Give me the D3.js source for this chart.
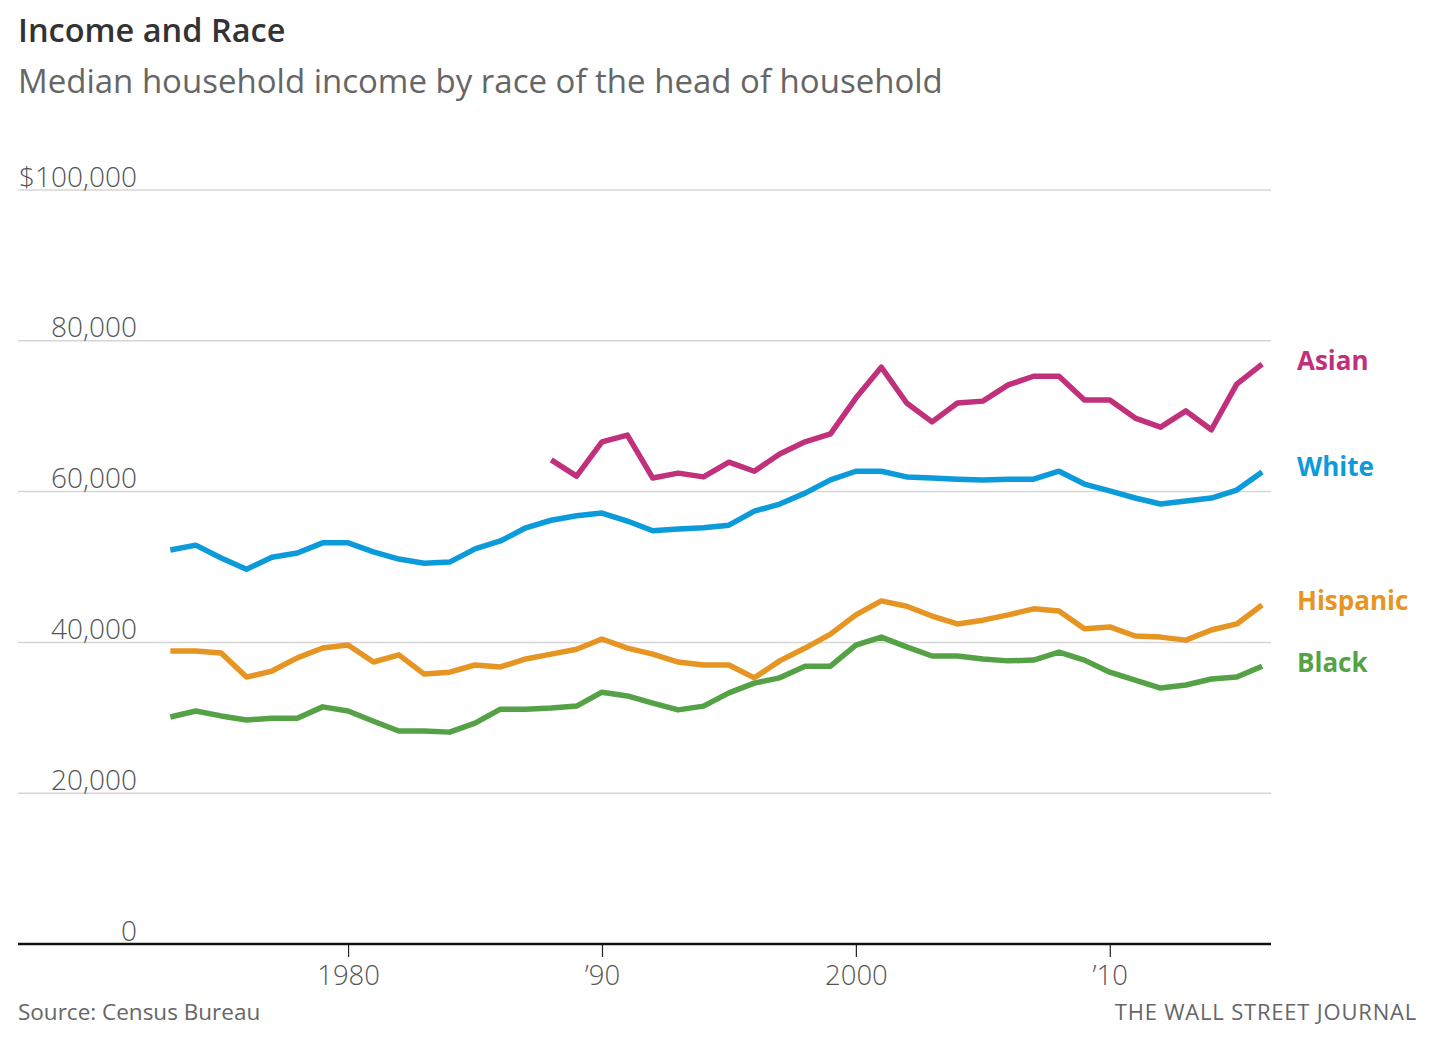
<!DOCTYPE html>
<html>
<head>
<meta charset="utf-8">
<script src="https://cdn.jsdelivr.net/npm/d3@7"></script>
<style>
  body { margin: 0; background: #fff; }
  svg text { font-family: "Open Sans", sans-serif; }
</style>
</head>
<body>
<svg id="chart" width="1435" height="1039"></svg>
<script>
// Median household income by race, Census Bureau
var years = d3.range(1973, 2017);
var asianYears = d3.range(1988, 2017);

var white = [52250, 52900, 51200, 49700, 51300, 51850, 53200, 53200, 52000, 51050,
  50500, 50650, 52400, 53450, 55200, 56200, 56800, 57150, 56100, 54800,
  55050, 55200, 55550, 57400, 58350, 59800, 61550, 62700, 62700, 61950,
  61800, 61650, 61550, 61650, 61650, 62700, 61000, 60100, 59150, 58350,
  58750, 59150, 60200, 62600];
var asian = [64200, 62050, 66600, 67500, 61800, 62450, 61950, 63900, 62700, 65000,
  66600, 67650, 72400, 76500, 71750, 69250, 71750, 72000, 74150, 75300,
  75300, 72150, 72150, 69750, 68550, 70700, 68200, 74250, 76900];
var hispanic = [38850, 38850, 38600, 35400, 36200, 37950, 39250, 39650, 37400, 38350,
  35800, 36050, 37000, 36750, 37800, 38450, 39100, 40450, 39250, 38450,
  37400, 37000, 37000, 35300, 37550, 39250, 41100, 43650, 45500, 44800,
  43500, 42450, 42950, 43650, 44450, 44150, 41800, 42050, 40850, 40700,
  40300, 41650, 42450, 44950];
var black = [30100, 30900, 30250, 29700, 29950, 29950, 31450, 30900, 29550, 28250,
  28250, 28100, 29300, 31150, 31150, 31300, 31550, 33400, 32900, 31950,
  31050, 31550, 33300, 34600, 35300, 36850, 36850, 39650, 40700, 39400,
  38200, 38200, 37800, 37550, 37650, 38700, 37650, 36050, 35000, 33950,
  34350, 35150, 35400, 36850];

var yTicks = [0, 20000, 40000, 60000, 80000, 100000];
var xTicks = [1980, 1990, 2000, 2010];
var xTickLabels = ["1980", "\u201990", "2000", "\u201910"];

var series = [
  {name: "Asian", color: "#c1307a", years: asianYears, values: asian, labelY: 361},
  {name: "White", color: "#0b9bdb", years: years, values: white, labelY: 467},
  {name: "Hispanic", color: "#e69523", years: years, values: hispanic, labelY: 601},
  {name: "Black", color: "#54a245", years: years, values: black, labelY: 663}
];

var svg = d3.select("#chart");
// plot box (don't call it "top", window.top is read-only)
var plotL = 18, plotR = 1271, plotT = 190, plotB = 944;

var x = d3.scaleLinear().domain([1967, 2016.35]).range([plotL, plotR]);
var y = d3.scaleLinear().domain([0, 100000]).range([plotB, plotT]);

// titles
svg.append("text").attr("x", 18).attr("y", 42)
  .attr("font-size", 32.5).attr("font-weight", 600).attr("fill", "#333")
  .text("Income and Race");
svg.append("text").attr("x", 18).attr("y", 93)
  .attr("font-size", 33).attr("fill", "#666")
  .text("Median household income by race of the head of household");

// grid + y labels
svg.append("g").selectAll("line").data(yTicks.filter(function(d) { return d > 0; }))
  .enter().append("line")
  .attr("x1", plotL).attr("x2", plotR)
  .attr("y1", function(d) { return y(d); }).attr("y2", function(d) { return y(d); })
  .attr("stroke", "#d6d6d6").attr("stroke-width", 1.5);

var yAxis = d3.axisLeft(y).tickValues(yTicks).tickSize(0).tickPadding(0)
  .tickFormat(function(d) { return d === 100000 ? "$100,000" : d3.format(",")(d); });
var gy = svg.append("g").attr("transform", "translate(137,0)").call(yAxis);
gy.select(".domain").remove();
gy.selectAll("text").attr("font-size", 28).attr("fill", "#555")
  .attr("font-weight", 300).attr("dy", -4).attr("x", 0)
  .style("font-family", "'Open Sans', sans-serif");

// x axis
var xAxis = d3.axisBottom(x).tickValues(xTicks).tickSize(13).tickPadding(8)
  .tickFormat(function(d, i) { return xTickLabels[i]; });
var gx = svg.append("g").attr("transform", "translate(0," + plotB + ")").call(xAxis);
gx.select(".domain").remove();
gx.selectAll(".tick line").attr("stroke", "#222").attr("stroke-width", 1.2);
gx.selectAll("text").attr("font-size", 27.5).attr("fill", "#555").attr("font-weight", 300)
  .style("font-family", "'Open Sans', sans-serif");
svg.append("line").attr("x1", plotL).attr("x2", plotR).attr("y1", plotB).attr("y2", plotB)
  .attr("stroke", "#111").attr("stroke-width", 2.5);

// lines
var line = d3.line()
  .x(function(d) { return x(d[0]); })
  .y(function(d) { return y(d[1]); });

series.forEach(function(s) {
  var pts = s.years.map(function(yr, i) { return [yr, s.values[i]]; });
  svg.append("path").datum(pts)
    .attr("d", line).attr("fill", "none")
    .attr("stroke", s.color).attr("stroke-width", 5.5)
    .attr("stroke-linejoin", "round");
  svg.append("text").attr("x", 1297).attr("y", s.labelY).attr("dy", "0.35em")
    .attr("font-size", 26).attr("font-weight", 700).attr("fill", s.color)
    .text(s.name);
});

// footer
svg.append("text").attr("x", 18).attr("y", 1020)
  .attr("font-size", 22.5).attr("fill", "#666").text("Source: Census Bureau");
svg.append("text").attr("x", 1417).attr("y", 1020).attr("text-anchor", "end")
  .attr("font-size", 22).attr("letter-spacing", 0.8).attr("fill", "#666")
  .text("THE WALL STREET JOURNAL");
</script>
</body>
</html>
